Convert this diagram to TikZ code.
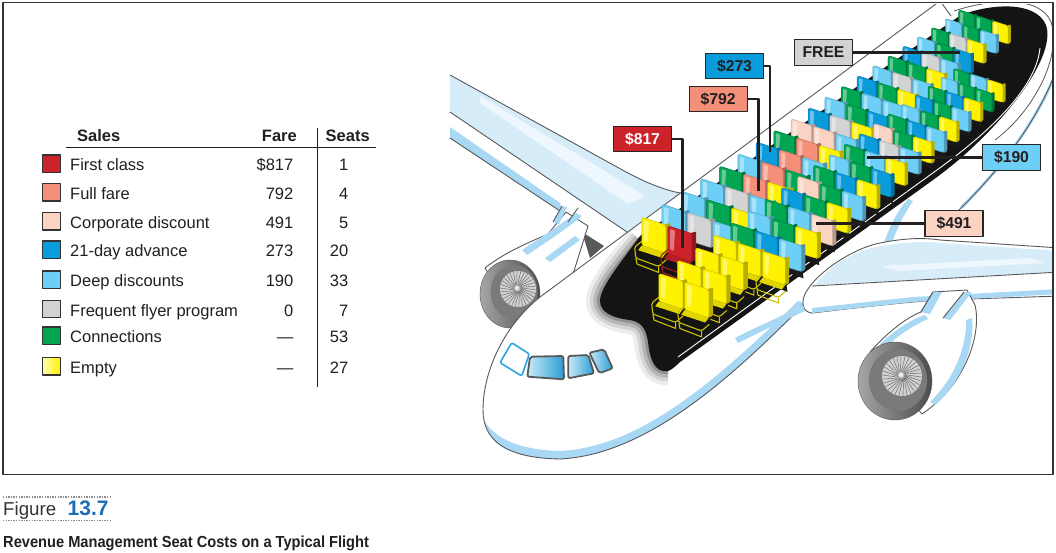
\documentclass[tikz,border=0pt]{standalone}
\usepackage{fontspec}
\usepackage{graphicx}
\setmainfont{Liberation Sans}
\definecolor{sR}{HTML}{CC2229}
\definecolor{sS}{HTML}{F4907A}
\definecolor{sP}{HTML}{FBD3C3}
\definecolor{sB}{HTML}{0A9BDB}
\definecolor{sL}{HTML}{6DCFF6}
\definecolor{sG}{HTML}{D1D3D4}
\definecolor{sN}{HTML}{00A651}
\definecolor{sY}{HTML}{FFF200}
\definecolor{lb}{HTML}{D6ECF9}
\definecolor{lbs}{HTML}{A8D8F3}
\definecolor{lbh}{HTML}{EEF7FD}
\definecolor{olc}{HTML}{58595B}
\definecolor{ink}{HTML}{231F20}
\definecolor{figblue}{HTML}{1C6DB6}
\definecolor{wblue}{HTML}{2BA6DF}
\newcommand\seatat[4]{%
 \begin{scope}[shift={(#1,#2)},scale=#3*1.2]
  \fill[black!90] (-10,3) -- (10,10) -- (11,17) -- (-9,10) -- cycle;
  \fill[#4!72!black,rounded corners=1.2pt] (7,-12.5) -- (12.5,-14.3) -- (12.5,9.5) -- (7.5,11.5) -- cycle;
  \filldraw[fill=#4,draw=#4!78!black,line width=0.45pt,rounded corners=2.4pt] (-11,-19) -- (9,-12.5) -- (9,11) -- (-11,4.5) -- cycle;
  \fill[white,opacity=0.4,rounded corners=1pt] (-9,-16.3) -- (-5,-15) -- (-6,2) -- (-9,1) -- cycle;
 \end{scope}}
\newcommand\seatfr[4]{%
 \begin{scope}[shift={(#1,#2)},scale=#3*1.2]
  \draw[#4!80!black,line width=1.1pt,rounded corners=1.5pt] (-11,1) -- (-17,6) -- (-16,15) -- (3,22) -- (10,16) -- (9,9);
  \draw[#4!80!black,line width=1.1pt] (-16,15) -- (-15,20) -- (3,27) -- (3,22);
 \end{scope}%
 \seatat{#1}{#2}{#3}{#4}%
 \begin{scope}[shift={(#1,#2)},scale=#3*1.2]
  \fill[#4!88!black] (-11,4.5) -- (9,11) -- (6,15) -- (-14,8.5) -- cycle;
 \end{scope}}
\tikzset{
 ol/.style={draw=olc, line width=0.9pt},
 lt/.style={inner sep=0pt, font=\fontsize{16.5}{19}\selectfont, text=ink},
 swatch/.style={draw=black!80, line width=1.2pt, minimum width=18pt, minimum height=17.5pt, inner sep=0pt},
 tagbox/.style={draw=black!85, line width=1.3pt, minimum width=58pt, minimum height=25.5pt, inner sep=0pt, font=\bfseries\fontsize{15.7}{18}\selectfont, text=ink},
 leader/.style={draw=ink, line width=2.2pt},
 dotline/.style={draw=black!45, line width=1.3pt, dash pattern=on 1.3pt off 1.3pt},
}
\begin{document}
\begin{tikzpicture}[x=1pt,y=-1pt,line join=round]
\useasboundingbox (0,0) rectangle (1056,552);
\fill[white] (0,0) rectangle (1056,552);

% ================= LEGEND =================
\node[lt, anchor=base west] (hSales) at (77,141) {\bfseries Sales};
\node[lt, anchor=base east] (hFare) at (297,141) {\bfseries Fare};
\node[lt, anchor=base west] (hSeats) at (325.5,141) {\bfseries Seats};
\draw[line width=1.3pt, ink] (66,147.5) -- (376,147.5);
\draw[line width=1.3pt, ink] (317.5,128) -- (317.5,387);

\node[swatch, fill=sR] (sw1) at (51.7,163.7) {};
\node[swatch, fill=sS] (sw2) at (51.7,192.3) {};
\node[swatch, fill=sP] (sw3) at (51.7,221.3) {};
\node[swatch, fill=sB] (sw4) at (51.7,249.7) {};
\node[swatch, fill=sL] (sw5) at (51.7,279.7) {};
\node[swatch, fill=sG] (sw6) at (51.7,309) {};
\node[swatch, fill=sN] (sw7) at (51.7,335.7) {};
\node[swatch, left color=sY!30!white, right color=sY] (sw8) at (51.7,366.3) {};

\node[lt, anchor=base west] (lab1) at (70,170.7) {First class};
\node[lt, anchor=base west] (lab2) at (70,199.3) {Full fare};
\node[lt, anchor=base west] (lab3) at (70,228.3) {Corporate discount};
\node[lt, anchor=base west] (lab4) at (70,256.7) {21-day advance};
\node[lt, anchor=base west] (lab5) at (70,286.7) {Deep discounts};
\node[lt, anchor=base west] (lab6) at (70,316) {Frequent flyer program};
\node[lt, anchor=base west] (lab7) at (70,342.7) {Connections};
\node[lt, anchor=base west] (lab8) at (70,373.3) {Empty};

\node[lt, anchor=base east] (fare1) at (293.5,170.7) {\$817};
\node[lt, anchor=base east] (fare2) at (293.5,199.3) {792};
\node[lt, anchor=base east] (fare3) at (293.5,228.3) {491};
\node[lt, anchor=base east] (fare4) at (293.5,256.7) {273};
\node[lt, anchor=base east] (fare5) at (293.5,286.7) {190};
\node[lt, anchor=base east] (fare6) at (293.5,316) {0};
\node[lt, anchor=base east] (fare7) at (293.5,342.7) {---};
\node[lt, anchor=base east] (fare8) at (293.5,373.3) {---};

\node[lt, anchor=base east] (seat1) at (348.5,170.7) {1};
\node[lt, anchor=base east] (seat2) at (348.5,199.3) {4};
\node[lt, anchor=base east] (seat3) at (348.5,228.3) {5};
\node[lt, anchor=base east] (seat4) at (348.5,256.7) {20};
\node[lt, anchor=base east] (seat5) at (348.5,286.7) {33};
\node[lt, anchor=base east] (seat6) at (348.5,316) {7};
\node[lt, anchor=base east] (seat7) at (348.5,342.7) {53};
\node[lt, anchor=base east] (seat8) at (348.5,373.3) {27};

% ================= PLANE =================
\begin{scope}
\clip (4,4) rectangle (1052,473);

% far wing
\fill[lb] (450,75) -- (617,167) .. controls (640,180) and (660,189) .. (680,193) -- (627,232) -- (450,112) -- cycle;
\fill[lbh] (480,96) -- (600,168) -- (645,196) -- (628,204) -- (480,103) -- cycle;
\fill[lbs] (450,127) -- (560,203) -- (563,213) -- (450,138) -- cycle;
\draw[ol] (450,75) -- (617,167) .. controls (640,180) and (660,189) .. (680,193);
\draw[ol] (450,112) -- (627,232);
\draw[ol] (450,138) -- (563,213);
\fill[black!65] (582,232) -- (604,246) -- (590,258) -- cycle;

% far engine nacelle and pylon
\filldraw[fill=white, ol] (485,268) .. controls (505,252) and (530,242) .. (548,234) -- (566,212) -- (588,226) -- (565,300) -- (505,300) -- cycle;
\fill[lbs] (522,250) .. controls (540,238) and (560,225) .. (576,213) -- (582,216) .. controls (565,230) and (545,243) .. (527,255) -- cycle;
\fill[lbs] (545,258) -- (575,236) -- (580,240) -- (550,262) -- cycle;
\fill[lbs] (553,222) -- (562,206) -- (567,207) -- (559,224) -- cycle;
\draw[ol] (553,222) -- (562,206);
\draw[ol] (568,222) -- (578,208);

% far engine face
\shadedraw[left color=black!35, right color=black!70, draw=olc] (510,294) ellipse [x radius=30, y radius=34];
\fill[black!52] (514,292) ellipse [x radius=23.5, y radius=27];
\fill[black!18] (518,289) circle (18);
\foreach \ang in {0,12,...,348} \draw[black!60, line width=0.45pt] (518,289) ++(\ang:4.5) -- ++(\ang+20:13.5);
\shade[ball color=black!15] (518,289) circle (4.5);

% fuselage body
\fill[white] (948,-5) -- (540,297) .. controls (505,325) and (483,370) .. (483,410) .. controls (483,440) and (505,458) .. (560,459) .. controls (640,455) and (720,390) .. (805,303) -- (960,210) .. controls (1000,170) and (1040,120) .. (1060,60) -- (1060,-5) -- cycle;
\fill[lbs] (485,422) .. controls (490,447) and (515,458) .. (560,459) .. controls (640,455) and (720,390) .. (805,303) -- (798,301) .. controls (715,382) and (640,447) .. (560,451) .. controls (522,450) and (497,440) .. (485,422) -- cycle;
\draw[lbs, line width=3pt] (961,208) .. controls (1002,167) and (1040,118) .. (1060,62);
\draw[ol] (948,-5) -- (540,297) .. controls (505,325) and (483,370) .. (483,410) .. controls (483,440) and (505,458) .. (560,459) .. controls (640,455) and (720,390) .. (805,303);
\draw[ol] (955,214) .. controls (1000,170) and (1040,120) .. (1060,60);
\draw[ol] (938,-2) -- (951,16);
\draw[ol, line width=0.8pt] (954,11) .. controls (990,-1) and (1040,-5) .. (1051,22) .. controls (1062,55) and (1035,110) .. (995,140);

% black cabin with soft front shadow
\foreach \w/\o in {28/0.07,20/0.1,13/0.14,6/0.2}
  \draw[black, line width=\w pt, opacity=\o] (668,371) .. controls (655,373) and (650,360) .. (648,342) .. controls (646,328) and (641,322) .. (630,320) .. controls (612,318) and (600,312) .. (600,301) .. controls (600,288) and (618,266) .. (640,240);
\fill[black!92] (640,236) -- (961,15) .. controls (990,4) and (1035,0) .. (1046,25) .. controls (1058,60) and (993,137) .. (933,180) -- (680,362) .. controls (675,367) and (671,370) .. (668,371) .. controls (655,373) and (650,360) .. (648,342) .. controls (646,328) and (641,322) .. (630,320) .. controls (612,318) and (600,312) .. (600,301) .. controls (600,288) and (618,266) .. (640,236) -- cycle;
\draw[white, line width=0.9pt] (678,357) -- (930,175) .. controls (985,136) and (1036,90) .. (1040,48);

% ---- seats, upper block ----
\foreach \i/\pa/\pb/\pc in {19/N/N/Y,18/L/N/L,17/N/G/Y,16/L/N/B,15/B/G/L,14/N/N/Y,13/L/G/L,12/B/N/Y,11/N/L/L,10/L/N/B,9/B/G/Y,8/P/P/L,7/N/S/Y,6/B/S/L,5/L/S/N,4/N/S/Y,3/L/G/L,2/L/N/Y,1/L/G/L}{
  \pgfmathsetmacro\sc{1-0.35*\i/19}
  \pgfmathsetmacro\tv{\i-0.35*\i*(\i-1)/38}
  \pgfmathsetmacro\bx{655+19.7*\tv}
  \pgfmathsetmacro\by{240-13.6*\tv}
  \seatat{\bx}{\by}{\sc}{s\pa}
  \seatat{\bx+26*\sc}{\by+8.5*\sc}{\sc}{s\pb}
  \seatat{\bx+52*\sc}{\by+17*\sc}{\sc}{s\pc}
}
\seatfr{655}{240}{1}{sY}
\seatfr{681}{248.5}{1}{sR}

% ---- seats, lower block ----
\foreach \i/\pa/\pb/\pc in {19/N/L/Y,18/L/N/N,17/N/B/Y,16/B/N/L,15/L/N/Y,14/N/B/L,13/P/N/Y,12/B/G/L,11/N/L/Y,10/L/N/B,9/N/B/Y,8/P/N/L,7/B/N/Y,6/N/L/P,5/L/N/Y,4/N/B/L}{
  \pgfmathsetmacro\sc{1-0.35*\i/19}
  \pgfmathsetmacro\tv{\i-0.35*\i*(\i-1)/38}
  \pgfmathsetmacro\bx{672+18.3*\tv}
  \pgfmathsetmacro\by{296-13.44*\tv}
  \seatat{\bx}{\by}{\sc}{s\pa}
  \seatat{\bx+26*\sc}{\by+8.5*\sc}{\sc}{s\pb}
  \seatat{\bx+52*\sc}{\by+17*\sc}{\sc}{s\pc}
}
\foreach \i in {3,2,1,0}{
  \pgfmathsetmacro\sc{1-0.35*\i/19}
  \pgfmathsetmacro\tv{\i-0.35*\i*(\i-1)/38}
  \pgfmathsetmacro\bx{672+18.3*\tv}
  \pgfmathsetmacro\by{296-13.44*\tv}
  \seatfr{\bx}{\by}{\sc}{sY}
  \seatfr{\bx+26*\sc}{\by+8.5*\sc}{\sc}{sY}
  \ifnum\i=3 \seatfr{\bx+52*\sc}{\by+17*\sc}{\sc}{sY}\fi
}

% wing-root sliver
\fill[lbs] (884,243) .. controls (890,225) and (898,210) .. (908,199) -- (913,201) .. controls (904,214) and (897,228) .. (892,243) -- cycle;

% near wing
\filldraw[fill=white, ol] (803,303) .. controls (801,285) and (845,250) .. (880,243) .. controls (900,239) and (920,237) .. (940,240) -- (1060,248) -- (1060,296) -- (940,300) -- (913,302) .. controls (870,306) and (830,311) .. (812,313) .. controls (805,312) and (803,308) .. (803,303) -- cycle;
\fill[lb] (815,285) .. controls (830,265) and (855,250) .. (882,246) .. controls (905,242) and (925,241) .. (940,243) -- (1060,251) -- (1060,272) -- cycle;
\fill[lbh] (880,266) -- (1030,258) -- (1045,263) -- (900,271) -- cycle;
\draw[ol] (812,286) -- (1060,272);
\fill[lbs] (812,308) -- (913,297) -- (1060,289) -- (1060,294) -- (913,302) -- (812,313) -- cycle;
\fill[lbs] (735,338) .. controls (760,325) and (785,315) .. (803,305) -- (805,311) .. controls (785,320) and (760,332) .. (738,343) -- cycle;

% near engine nacelle and pylon
\filldraw[fill=white, ol] (870,352) .. controls (885,335) and (905,318) .. (921,312) -- (933,292) -- (967,290) -- (975,305) .. controls (982,335) and (965,385) .. (922,414) -- cycle;
\fill[lbs] (880,344) .. controls (895,330) and (910,320) .. (925,315) -- (928,319) .. controls (912,326) and (897,336) .. (884,349) -- cycle;
\fill[lbs] (972,318) .. controls (975,345) and (963,380) .. (935,405) -- (930,402) .. controls (955,378) and (967,345) .. (966,320) -- cycle;
\fill[lbs] (921,312) -- (933,292) -- (942,292) -- (930,314) -- cycle;
\fill[lbs] (943,318) -- (964,292) -- (972,292) -- (950,320) -- cycle;
\draw[ol] (921,312) -- (933,292);
\draw[ol] (943,318) -- (964,292);

% near engine face
\shadedraw[left color=black!35, right color=black!70, draw=olc] (895,381) ellipse [x radius=37, y radius=39];
\fill[black!52] (898,380) ellipse [x radius=29, y radius=31];
\fill[black!18] (902,376) circle (20);
\foreach \ang in {0,12,...,348} \draw[black!60, line width=0.45pt] (902,376) ++(\ang:5) -- ++(\ang+20:15);
\shade[ball color=black!15] (902,376) circle (5);

% cockpit windows
\draw[wblue, line width=1.6pt, fill=white, rounded corners=1.5pt] (511.7,342.7) -- (529.3,354) -- (521.7,376) -- (500,362.7) -- cycle;
\path[draw=olc, line width=1.8pt, left color=wblue!25!white, right color=wblue!95!black, rounded corners=2pt] (530,356.7) -- (563.3,356) -- (564,379.3) -- (527.3,376.7) -- cycle;
\path[draw=olc, line width=1.8pt, left color=wblue!25!white, right color=wblue!95!black, rounded corners=2pt] (568.3,356) -- (588.3,355) -- (594,373.3) -- (568.3,378.3) -- cycle;
\path[draw=olc, line width=1.8pt, left color=wblue!25!white, right color=wblue!95!black, rounded corners=2pt] (589.3,352.7) -- (604,349.3) -- (612.7,368.3) -- (599.3,373.3) -- cycle;

% seat targets
\coordinate (cFREE) at (960,52.5);
\coordinate (c273) at (770,152);
\coordinate (c792) at (758.5,191);
\coordinate (c817) at (682.4,248);
\coordinate (c190) at (867,157.5);
\coordinate (c491) at (816,223.5);

% label boxes
\node[tagbox, fill=sG] (tFREE) at (823.5,52.5) {FREE};
\node[tagbox, fill=sB] (t273) at (734.5,66) {\$273};
\node[tagbox, fill=sS] (t792) at (718.2,99) {\$792};
\node[tagbox, fill=sR, text=white] (t817) at (642.5,139) {\$817};
\node[tagbox, fill=sL] (t190) at (1011.5,157.5) {\$190};
\node[tagbox, fill=sP] (t491) at (954,223.5) {\$491};

\draw[leader] (tFREE.east) -- (cFREE);
\draw[leader] (t273.east) -| (c273);
\draw[leader] (t792.east) -| (c792);
\draw[leader] (t817.east) -| (c817);
\draw[leader] (t190.west) -- (c190);
\draw[leader] (t491.west) -- (c491);
\end{scope}

% frame
\draw[black!80, line width=1.6pt] (3,2.5) rectangle (1053,474.5);

% ================= CAPTION =================
\draw[dotline] (3,497) -- (112,497);
\draw[dotline] (3,520.5) -- (112,520.5);
\node[anchor=base west, inner sep=0pt, font=\fontsize{18.7}{21}\selectfont, text=black!80] (figword) at (3,515) {Figure};
\node[anchor=base west, inner sep=0pt, font=\bfseries\fontsize{21}{23}\selectfont, text=figblue] (fignum) at (67.5,515.5) {13.7};
\node[anchor=base west, inner sep=0pt, font=\bfseries\fontsize{16}{18}\selectfont, text=ink] (figcap) at (3,547) {\scalebox{0.915}[1]{Revenue Management Seat Costs on a Typical Flight}};
\end{tikzpicture}
\end{document}
